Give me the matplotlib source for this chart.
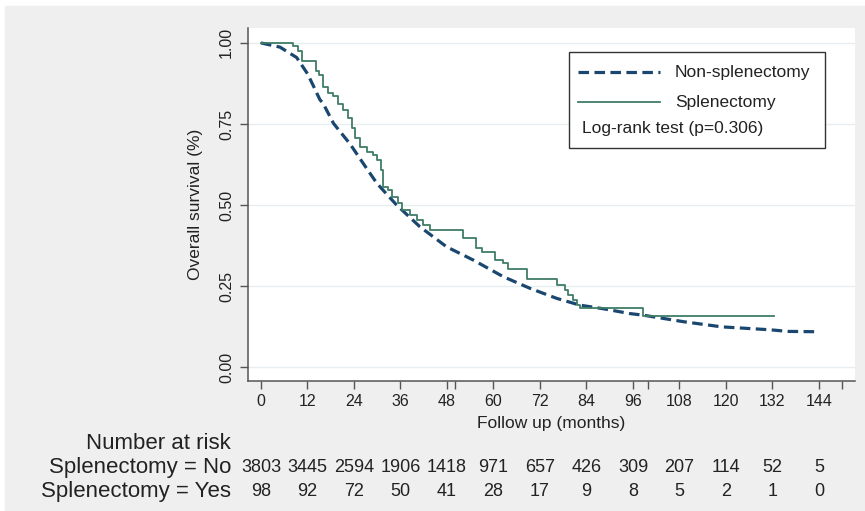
import numpy as np
import matplotlib
matplotlib.use("Agg")
import matplotlib.pyplot as plt
import matplotlib.transforms as mtransforms
from matplotlib.lines import Line2D
from matplotlib.patches import Rectangle

plt.rcParams['font.family'] = ['Liberation Sans', 'DejaVu Sans']

# Non-splenectomy KM curve (dense events, read off as a smooth curve)
non_t = [0, 4.9, 9.2, 12.0, 13.5, 15.2, 16.1, 18.7, 19.5, 23.0, 26.4, 29.9, 32.4, 35.0,
         41.0, 47.9, 54.8, 62.5, 69.4, 76.3, 82.3, 88.3, 95.2, 98.7, 109.0, 118.9,
         131.4, 136.0, 143.4]
non_s = [1.0, 0.987, 0.955, 0.905, 0.868, 0.825, 0.812, 0.752, 0.740, 0.688, 0.628, 0.567,
         0.534, 0.500, 0.433, 0.371, 0.330, 0.279, 0.243, 0.212, 0.191, 0.180, 0.165,
         0.160, 0.140, 0.124, 0.115, 0.110, 0.109]

# Splenectomy KM steps (time of step, survival after step)
spl_t = [0, 8.2, 9.6, 10.5, 14.2, 15.1, 15.9, 17.4, 18.7, 20.0, 21.2, 22.5, 23.4, 24.3,
         25.5, 27.3, 29.0, 29.9, 31.1, 31.6, 32.9, 33.7, 35.4, 36.3, 38.5, 40.2, 41.9,
         43.6, 52.2, 55.6, 57.0, 60.4, 62.5, 63.8, 68.6, 76.3, 78.5, 79.3, 80.6, 81.5,
         82.3, 98.7, 132.4]
spl_s = [1.0, 0.99, 0.975, 0.943, 0.912, 0.90, 0.865, 0.846, 0.835, 0.81, 0.794, 0.768,
         0.738, 0.707, 0.68, 0.664, 0.654, 0.639, 0.608, 0.556, 0.546, 0.525, 0.505,
         0.485, 0.469, 0.454, 0.438, 0.423, 0.397, 0.366, 0.356, 0.33, 0.32, 0.304,
         0.273, 0.253, 0.238, 0.222, 0.207, 0.191, 0.181, 0.158, 0.158]

risk_times = list(range(0, 145, 12))
risk_no = [3803, 3445, 2594, 1906, 1418, 971, 657, 426, 309, 207, 114, 52, 5]
risk_yes = [98, 92, 72, 50, 41, 28, 17, 9, 8, 5, 2, 1, 0]
row_labels = ["Splenectomy = No", "Splenectomy = Yes"]

NAVY = "#1a476f"
GREEN = "#3f7d66"
W, H = 865, 511

fig = plt.figure(figsize=(W / 100, H / 100), dpi=100, facecolor="white")
fig.patches.append(Rectangle((5 / W, 0), 1, 1 - 6 / H, transform=fig.transFigure,
                             color="#efefef", zorder=-10))
ax = fig.add_axes([248 / W, 130 / H, 607 / W, 353 / H])

ax.plot(non_t, non_s, color=NAVY, lw=2.3, dashes=(3.3, 1.7))
ax.step(spl_t, spl_s, where="post", color=GREEN, lw=1.3)

ax.set_xlim(-3.35, 153.3)
ax.set_ylim(-0.043, 1.046)
for s in ["top", "right"]:
    ax.spines[s].set_visible(False)
for s in ["left", "bottom"]:
    ax.spines[s].set_color("#555555")
    ax.spines[s].set_linewidth(1.1)

ax.set_xticks(risk_times)
ax.set_xticks([50, 100, 150], minor=True)
yt = [0, 0.25, 0.5, 0.75, 1.0]
ax.set_yticks(yt)
ax.set_yticklabels([f"{v:.2f}" for v in yt], rotation=90, va="center")
ax.tick_params(axis="both", which="both", length=6, width=1, color="#555555",
               labelsize=11.5, labelcolor="#222222")
ax.tick_params(axis="y", pad=4)
ax.yaxis.grid(True, color="#e6eef0", lw=1)
ax.set_axisbelow(True)

ax.set_ylabel("Overall survival (%)", fontsize=12.5, color="#222222")
ax.yaxis.set_label_coords(-0.074, 0.5)
ax.set_xlabel("Follow up (months)", fontsize=12.5, color="#222222")
ax.xaxis.set_label_coords(0.5, -0.100)

# legend box
ax.add_patch(Rectangle((0.5288, 0.660), 0.4218, 0.272, transform=ax.transAxes,
                       facecolor="white", edgecolor="#333333", lw=1, zorder=5))
ax.add_line(Line2D([0.5437, 0.6787], [0.875, 0.875], transform=ax.transAxes,
                   color=NAVY, lw=2.3, dashes=(3.3, 1.7), zorder=6))
ax.add_line(Line2D([0.5437, 0.6787], [0.790, 0.790], transform=ax.transAxes,
                   color=GREEN, lw=1.3, zorder=6))
ax.text(0.7035, 0.875, "Non-splenectomy", transform=ax.transAxes, fontsize=12.5,
        va="center", ha="left", color="#222222", zorder=7)
ax.text(0.7035, 0.790, "Splenectomy", transform=ax.transAxes, fontsize=12.5,
        va="center", ha="left", color="#222222", zorder=7)
ax.text(0.550, 0.714, "Log-rank test (p=0.306)", transform=ax.transAxes, fontsize=12.5,
        va="center", ha="left", color="#222222", zorder=7)

# number at risk table
trans = mtransforms.blended_transform_factory(ax.transData, fig.transFigure)
y_head, y_no, y_yes = 1 - 443 / H, 1 - 467 / H, 1 - 492 / H
fig.text(231 / W, y_head, "Number at risk", ha="right", va="center", fontsize=16,
         color="#222222")
for lab, yy in zip(row_labels, [y_no, y_yes]):
    fig.text(231 / W, yy, lab, ha="right", va="center", fontsize=16, color="#222222")
for t, n1, n2 in zip(risk_times, risk_no, risk_yes):
    ax.text(t, y_no, str(n1), transform=trans, ha="center", va="center",
            fontsize=13, color="#222222")
    ax.text(t, y_yes, str(n2), transform=trans, ha="center", va="center",
            fontsize=13, color="#222222")

fig.savefig("out.png", dpi=100, facecolor=fig.get_facecolor())
